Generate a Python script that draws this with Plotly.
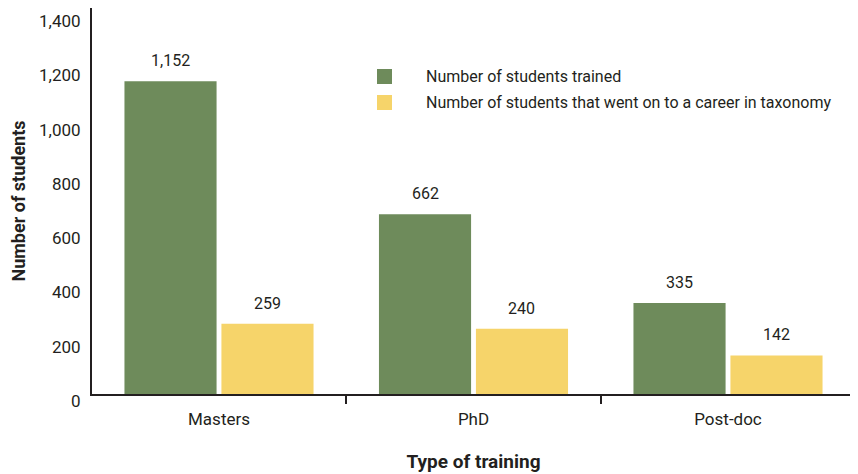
import plotly.graph_objects as go

categories = ["Masters", "PhD", "Post-doc"]
trained = [1152, 662, 335]
taxonomy_careers = [259, 240, 142]
y_ticks = [0, 200, 400, 600, 800, 1000, 1200, 1400]
series_names = [
    "Number of students trained",
    "Number of students that went on to a career in taxonomy",
]

GREEN = "#6e8b5b"
YELLOW = "#f6d46a"
INK = "#231f20"
FONT = "Roboto"

# the page body has an 8px margin, so the figure sits at (8, 8) in the window
W, H = 850, 466
M_L, M_R, M_T, M_B = 84, 3, 0, 80
PLOT_W = W - M_L - M_R
PLOT_H = H - M_T - M_B
OFF = 8


def px_x(x):
    return (x - OFF - M_L) / PLOT_W


def px_y(y):
    return (H - M_B - (y - OFF)) / PLOT_H


fig = go.Figure()
for name, vals, color in [
    (series_names[0], trained, GREEN),
    (series_names[1], taxonomy_careers, YELLOW),
]:
    fig.add_bar(
        x=categories,
        y=vals,
        name=name,
        marker_color=color,
        marker_line_width=0,
        showlegend=False,
    )

# value labels above the bars
offset = (1 - 0.238) / 4
for i, cat in enumerate(categories):
    for vals, dx in [(trained, -offset), (taxonomy_careers, offset)]:
        fig.add_annotation(
            x=i + dx,
            y=vals[i],
            text=f"{vals[i]:,}",
            showarrow=False,
            xref="x",
            yref="y",
            yanchor="bottom",
            yshift=9,
            font=dict(size=16, color=INK, family=FONT),
        )

# hand-made legend (wide gap between swatch and text as in the original)
for k, (name, color) in enumerate(zip(series_names, [GREEN, YELLOW])):
    top = 69 + 26 * k
    fig.add_shape(
        type="rect",
        xref="paper",
        yref="paper",
        x0=px_x(377),
        x1=px_x(392),
        y0=px_y(top + 15),
        y1=px_y(top),
        fillcolor=color,
        line_width=0,
    )
    fig.add_annotation(
        x=px_x(424),
        y=px_y(top + 7.5),
        xref="paper",
        yref="paper",
        text=name,
        showarrow=False,
        xanchor="left",
        yanchor="middle",
        font=dict(size=16, color=INK, family=FONT),
    )

fig.update_layout(
    width=W,
    height=H,
    margin=dict(l=M_L, r=M_R, t=M_T, b=M_B),
    plot_bgcolor="white",
    paper_bgcolor="white",
    barmode="group",
    bargap=0.238,
    bargroupgap=0.05,
    font=dict(family=FONT, size=16, color=INK),
    xaxis=dict(
        type="category",
        range=[-0.499, 2.499],
        automargin=False,
        showline=True,
        linecolor=INK,
        linewidth=2,
        ticks="outside",
        tickson="boundaries",
        ticklen=8,
        tickcolor=INK,
        tickwidth=1.5,
        showgrid=False,
        ticklabelstandoff=9,
        tickfont=dict(size=17),
        title=dict(
            text="<b>Type of training</b>",
            font=dict(size=19),
            standoff=26,
        ),
    ),
    yaxis=dict(
        range=[0, 1422],
        automargin=False,
        showline=True,
        linecolor=INK,
        linewidth=2,
        showgrid=False,
        zeroline=False,
        tickvals=y_ticks,
        tickformat=",",
        ticks="",
        ticklabelstandoff=6,
        ticklabelshift=7,
        ticklabeloverflow="allow",
        tickfont=dict(size=17),
        title=dict(
            text="<b>Number of students</b>",
            font=dict(size=18),
            standoff=12,
        ),
    ),
)

fig.write_html("out.html")
